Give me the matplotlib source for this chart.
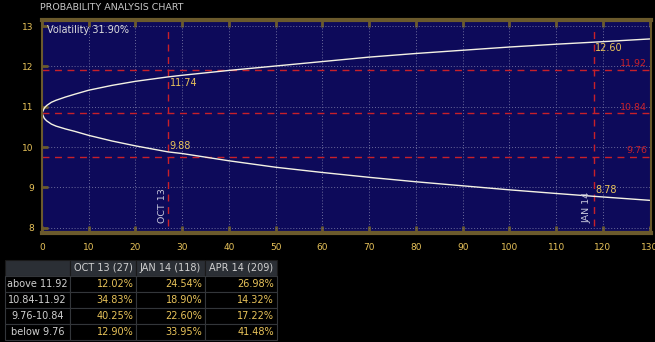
import matplotlib.pyplot as plt
from matplotlib.table import Table

# values
days = [0, 0.5, 1, 2, 3, 5, 7, 10, 15, 20, 27, 30, 40, 50, 60, 70, 80, 90, 100, 110, 118, 130]
upper = [10.84, 10.97, 11.03, 11.11, 11.16, 11.24, 11.31, 11.41, 11.53, 11.63, 11.74, 11.78,
         11.90, 12.01, 12.12, 12.23, 12.32, 12.40, 12.48, 12.55, 12.60, 12.68]
lower = [10.84, 10.71, 10.65, 10.57, 10.52, 10.45, 10.39, 10.29, 10.15, 10.03, 9.88, 9.84,
         9.66, 9.50, 9.37, 9.25, 9.14, 9.04, 8.94, 8.85, 8.78, 8.68]

levels = [11.92, 10.84, 9.76]
expiry_days = [27, 118]
expiry_names = ["OCT 13", "JAN 14"]
expiry_high = [11.74, 12.60]
expiry_low = [9.88, 8.78]

col_labels = ["OCT 13 (27)", "JAN 14 (118)", "APR 14 (209)"]
row_labels = ["above 11.92", "10.84-11.92", "9.76-10.84", "below 9.76"]
probs = [
    ["12.02%", "24.54%", "26.98%"],
    ["34.83%", "18.90%", "14.32%"],
    ["40.25%", "22.60%", "17.22%"],
    ["12.90%", "33.95%", "41.48%"],
]

BG = "#000000"
NAVY = "#0d0a5a"
BROWN = "#6b5a2c"
GOLD = "#e8c35a"
RED = "#c8202a"
CURVE = "#f4f2e4"
GREY = "#d0d0d0"

fig = plt.figure(figsize=(6.55, 3.42), dpi=100, facecolor=BG)
ax = fig.add_axes([42 / 655, 109 / 342, 609 / 655, 213 / 342])
ax.set_facecolor(NAVY)

ax.set_xlim(0, 130.3)
ax.set_ylim(7.87, 13.15)
ax.set_xticks(range(0, 131, 10))
ax.set_yticks(range(8, 14))
ax.grid(True, color="#6c6c9c", linestyle=(0, (1, 2)), linewidth=0.7)
ax.set_axisbelow(True)

for side in ["left", "right"]:
    ax.spines[side].set_color(BROWN)
    ax.spines[side].set_linewidth(1.5)
for side in ["top", "bottom"]:
    ax.spines[side].set_color(BROWN)
    ax.spines[side].set_linewidth(3)
ax.tick_params(axis="x", direction="in", length=5, width=2, color=BROWN, top=True,
               labelcolor=GOLD, labelsize=6.5, pad=7)
ax.tick_params(axis="y", direction="in", length=4, width=2, color=BROWN,
               labelcolor=GOLD, labelsize=6.5, pad=6)

for lvl in levels:
    ax.axhline(lvl, color=RED, linestyle=(0, (5, 4)), linewidth=1)
    ax.text(129.5, lvl + 0.04, f"{lvl:.2f}", color=RED, fontsize=6.8, ha="right", va="bottom")

for d, name in zip(expiry_days, expiry_names):
    ax.vlines(d, 8.05, 13.0, color=RED, linestyle=(0, (5, 4)), linewidth=1)
    ax.text(d - 1.3, 8.12, name, color="#c8c8dc", fontsize=6.8, rotation=90,
            ha="center", va="bottom")

ax.plot(days, upper, color=CURVE, linewidth=1)
ax.plot(days, lower, color=CURVE, linewidth=1)

for d, hi, lo in zip(expiry_days, expiry_high, expiry_low):
    ax.text(d + 0.3, hi - 0.03, f"{hi:.2f}", color=GOLD, fontsize=7, ha="left", va="top")
    ax.text(d + 0.3, lo + 0.02, f"{lo:.2f}", color=GOLD, fontsize=7, ha="left", va="bottom")

ax.text(0.008, 0.955, "Volatility 31.90%", transform=ax.transAxes, color="#dcdcdc",
        fontsize=7, ha="left", va="center")
fig.text(40 / 655, 1 - 7 / 342, "PROBABILITY ANALYSIS CHART", color="#c8c8c8",
         fontsize=6.8, ha="left", va="center")

# probability table
ax_t = fig.add_axes([5 / 655, 2 / 342, 272 / 655, 80 / 342])
ax_t.axis("off")
tb = Table(ax_t, bbox=[0, 0, 1, 1])
widths = [65, 66, 69, 72]
n_rows = len(row_labels) + 1
for r in range(n_rows):
    for c in range(len(widths)):
        if r == 0:
            text = "" if c == 0 else col_labels[c - 1]
            cell = tb.add_cell(r, c, widths[c], 1, text=text, loc="center",
                               facecolor="#2b2f35", edgecolor="#1a1a1a")
            cell.get_text().set_color(GREY)
        elif c == 0:
            cell = tb.add_cell(r, c, widths[c], 1, text=row_labels[r - 1], loc="center",
                               facecolor=BG, edgecolor="#33363a")
            cell.get_text().set_color(GREY)
        else:
            cell = tb.add_cell(r, c, widths[c], 1, text=probs[r - 1][c - 1], loc="right",
                               facecolor=BG, edgecolor="#33363a")
            cell.get_text().set_color(GOLD)
            cell.PAD = 0.04
        cell.set_linewidth(0.8)
tb.auto_set_font_size(False)
tb.set_fontsize(7)
ax_t.add_table(tb)

fig.savefig("out.png", dpi=100, facecolor=BG)
